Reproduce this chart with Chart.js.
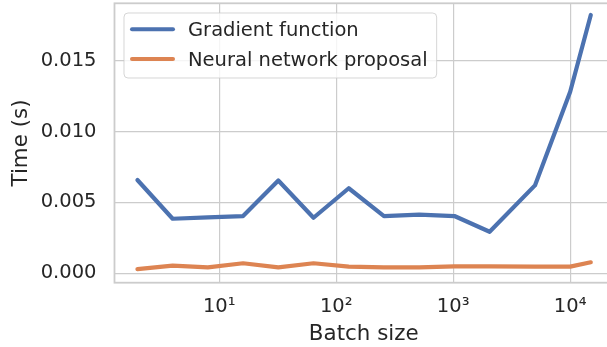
<!DOCTYPE html>
<html><head><meta charset="utf-8">
<script src="https://cdn.jsdelivr.net/npm/chart.js@4"></script>
<style>html,body{margin:0;padding:0;overflow:hidden;background:#fff}</style>
</head><body>
<canvas id="c" width="613" height="347"></canvas>
<script>
const batchSizes = [2,4,8,16,32,64,128,256,512,1024,2048,5000,10000,15000];
const gradientTimes = [0.00658,0.00385,0.00395,0.00404,0.00655,0.00392,0.00600,0.00404,0.00414,0.00404,0.00293,0.00620,0.01280,0.01822];
const proposalTimes = [0.00030,0.00054,0.00042,0.00071,0.00042,0.00071,0.00047,0.00042,0.00042,0.00049,0.00049,0.00047,0.00047,0.00078];
const seriesNames = ['Gradient function','Neural network proposal'];
const xTickValues = [10,100,1000,10000];
const xTickLabels = ['10¹','10²','10³','10⁴'];
const yTickValues = [0,0.005,0.010,0.015];
const yTickLabels = ['0.000','0.005','0.010','0.015'];

const TEXT = '#262626', GRID = '#cccccc';
const FONT = 'DejaVu Sans';

const framePlugin = {
  id: 'frame',
  afterDatasetsDraw(chart) {
    const {ctx, chartArea: a} = chart;
    ctx.save();
    ctx.strokeStyle = GRID;
    ctx.lineWidth = 1.8;
    ctx.strokeRect(a.left, a.top, a.right - a.left, a.bottom - a.top);
    ctx.restore();
  }
};

const legendPlugin = {
  id: 'innerLegend',
  afterDraw(chart) {
    const {ctx, chartArea: a} = chart;
    const ds = chart.data.datasets;
    ctx.save();
    ctx.font = '19.5px "' + FONT + '"';
    let maxW = 0;
    ds.forEach(d => { maxW = Math.max(maxW, ctx.measureText(d.label).width); });
    const x0 = a.left + 9.5, y0 = a.top + 9.7;
    const w = 64 + maxW + 9, h = 65, r = 4;
    ctx.beginPath();
    ctx.moveTo(x0 + r, y0);
    ctx.lineTo(x0 + w - r, y0); ctx.quadraticCurveTo(x0 + w, y0, x0 + w, y0 + r);
    ctx.lineTo(x0 + w, y0 + h - r); ctx.quadraticCurveTo(x0 + w, y0 + h, x0 + w - r, y0 + h);
    ctx.lineTo(x0 + r, y0 + h); ctx.quadraticCurveTo(x0, y0 + h, x0, y0 + h - r);
    ctx.lineTo(x0, y0 + r); ctx.quadraticCurveTo(x0, y0, x0 + r, y0);
    ctx.closePath();
    ctx.fillStyle = 'rgba(255,255,255,0.8)';
    ctx.fill();
    ctx.strokeStyle = 'rgba(204,204,204,0.8)';
    ctx.lineWidth = 1;
    ctx.stroke();
    ds.forEach((d, i) => {
      const cy = y0 + 16.3 + i * 29.7;
      ctx.beginPath();
      ctx.moveTo(x0 + 8, cy); ctx.lineTo(x0 + 49, cy);
      ctx.strokeStyle = d.borderColor; ctx.lineWidth = 4; ctx.lineCap = 'round';
      ctx.stroke();
      ctx.fillStyle = TEXT;
      ctx.textBaseline = 'alphabetic';
      ctx.textAlign = 'left';
      ctx.fillText(d.label, x0 + 64, cy + 7.1);
    });
    ctx.restore();
  }
};

new Chart(document.getElementById('c'), {
  type: 'line',
  data: {
    datasets: [
      { label: seriesNames[0], data: batchSizes.map((b, i) => ({x: b, y: gradientTimes[i]})),
        borderColor: '#4c72b0', backgroundColor: '#4c72b0' },
      { label: seriesNames[1], data: batchSizes.map((b, i) => ({x: b, y: proposalTimes[i]})),
        borderColor: '#dd8452', backgroundColor: '#dd8452' }
    ]
  },
  options: {
    responsive: false,
    animation: false,
    devicePixelRatio: 1,
    layout: { padding: { top: 3.3, left: 0, right: 0, bottom: 0 } },
    elements: {
      line: { borderWidth: 4.2, tension: 0, borderCapStyle: 'round', borderJoinStyle: 'round', fill: false },
      point: { radius: 0, hoverRadius: 0 }
    },
    plugins: { legend: { display: false }, tooltip: { enabled: false } },
    scales: {
      x: {
        type: 'logarithmic',
        min: Math.pow(10, 0.105),
        max: Math.pow(10, 4.366),
        afterBuildTicks: s => { s.ticks = xTickValues.map(v => ({value: v})); },
        afterFit: s => { s.height = 64.3; s.paddingLeft = 0; s.paddingRight = 0; },
        ticks: {
          autoSkip: false, maxRotation: 0, padding: 13,
          color: TEXT, font: { family: FONT, size: 19.5 },
          callback: (v) => { const i = xTickValues.indexOf(v); return i >= 0 ? xTickLabels[i] : ''; }
        },
        grid: { color: GRID, lineWidth: 1.2, drawTicks: false },
        border: { display: false },
        title: { display: true, text: 'Batch size', color: TEXT, font: { family: FONT, size: 21.4 }, padding: { top: 0, bottom: 0 } }
      },
      y: {
        type: 'linear',
        min: -0.00066,
        max: 0.01904,
        afterBuildTicks: s => { s.ticks = yTickValues.map(v => ({value: v})); },
        afterFit: s => { s.width = 114.5; s.paddingTop = 0; s.paddingBottom = 0; },
        ticks: {
          padding: 18, color: TEXT, font: { family: FONT, size: 19.5 },
          callback: (v) => { const i = yTickValues.findIndex(t => Math.abs(t - v) < 1e-9); return i >= 0 ? yTickLabels[i] : ''; }
        },
        grid: { color: GRID, lineWidth: 1.2, drawTicks: false },
        border: { display: false },
        title: { display: true, text: 'Time (s)', color: TEXT, font: { family: FONT, size: 21.4 }, padding: { top: 9, bottom: 0 } }
      }
    }
  },
  plugins: [framePlugin, legendPlugin]
});
</script>
</body></html>
